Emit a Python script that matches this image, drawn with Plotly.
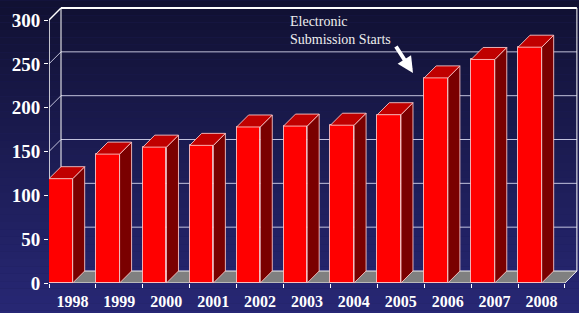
import plotly.graph_objects as go

# ---- data ----
years = ["1998", "1999", "2000", "2001", "2002", "2003", "2004", "2005", "2006", "2007", "2008"]
submissions = [119, 147, 155, 157, 178, 179, 180, 192, 234, 255, 269]
y_ticks = [0, 50, 100, 150, 200, 250, 300]
note_text = "Electronic<br>Submission Starts"

# ---- geometry (in axis units) ----
PX_X = 46.9          # pixels per category
PX_Y = 0.8766        # pixels per value unit
DX = 12 / PX_X       # depth offset in category units
DY = 12 / PX_Y       # depth offset in value units
W = 0.505            # front face width (category units)
N = len(years)
X_MAX = 529 / PX_X
Y_MAX = 277 / PX_Y

FONT = "Liberation Serif"
EDGE = "rgba(255,205,205,0.85)"

fig = go.Figure()

# ---- background gradient (paper) ----
top = (15, 15, 45)
bot = (47, 47, 140)
NB = 60
for k in range(NB):
    t = (k + 0.5) / NB
    c = tuple(round(top[j] + (bot[j] - top[j]) * t) for j in range(3))
    fig.add_shape(type="rect", xref="paper", yref="paper",
                  x0=-0.2, x1=1.2, y0=1.1 - (k + 1) * 1.6 / NB, y1=1.1 - k * 1.6 / NB,
                  fillcolor="rgb(%d,%d,%d)" % c, line=dict(width=0), layer="below")

shapes_line = dict(color="rgba(235,235,255,0.8)", width=1)
# back wall gridlines
for v in y_ticks[1:-1]:
    fig.add_shape(type="line", x0=DX, x1=N + DX, y0=v + DY, y1=v + DY,
                  line=shapes_line, layer="below")
    fig.add_shape(type="line", x0=0, x1=DX, y0=v, y1=v + DY,
                  line=shapes_line, layer="below")
top_v = y_ticks[-1]
fig.add_shape(type="line", x0=DX, x1=N + DX, y0=top_v + DY, y1=top_v + DY,
              line=dict(color="white", width=2), layer="below")
fig.add_shape(type="line", x0=0, x1=DX, y0=top_v, y1=top_v + DY,
              line=dict(color="white", width=1.5), layer="below")
# wall edges
fig.add_shape(type="line", x0=DX, x1=DX, y0=DY, y1=top_v + DY, line=dict(color="white", width=1), layer="below")
fig.add_shape(type="line", x0=N + DX, x1=N + DX, y0=DY, y1=top_v + DY, line=dict(color="white", width=1), layer="below")
fig.add_shape(type="line", x0=0, x1=0, y0=0, y1=top_v, line=dict(color="white", width=1.5), layer="below")
# floor
fig.add_shape(type="path",
              path="M 0 0 L %f 0 L %f %f L %f %f Z" % (N, N + DX, DY, DX, DY),
              fillcolor="#808080", line=dict(color="rgba(255,255,255,0.9)", width=1), layer="below")

# ---- front faces ----
xs = list(range(N))
fig.add_trace(go.Bar(x=[i + W / 2 for i in xs], y=submissions, width=W,
                     marker=dict(color="#ff0000", line=dict(color=EDGE, width=1)),
                     hoverinfo="skip", showlegend=False))

# ---- side and top faces ----
for i, v in zip(xs, submissions):
    xr = i + W
    fig.add_trace(go.Scatter(
        x=[xr, xr + DX, xr + DX, xr, xr], y=[0, DY, v + DY, v, 0],
        fill="toself", fillcolor="#7a0000", mode="lines",
        line=dict(color=EDGE, width=1), hoverinfo="skip", showlegend=False))
    fig.add_trace(go.Scatter(
        x=[i, i + DX, xr + DX, xr, i], y=[v, v + DY, v + DY, v, v],
        fill="toself", fillcolor="#c00000", mode="lines",
        line=dict(color=EDGE, width=1), hoverinfo="skip", showlegend=False))

# ---- annotations ----
fig.add_annotation(x=(288 - 49) / PX_X, y=(283 - 30) / PX_Y, xref="x", yref="y",
                   text=note_text, showarrow=False, xanchor="left", yanchor="middle",
                   align="left", font=dict(family=FONT, size=14, color="#eeeeee"))
fig.add_annotation(x=(413 - 49) / PX_X, y=(283 - 73) / PX_Y, xref="x", yref="y",
                   text="", showarrow=True, ax=-18, ay=-28, arrowhead=2,
                   arrowsize=0.8, arrowwidth=4, arrowcolor="white", standoff=0)

fig.update_layout(
    width=579, height=313, autosize=False,
    margin=dict(l=49, r=1, t=6, b=30, autoexpand=False),
    paper_bgcolor="rgb(31,31,92)", plot_bgcolor="rgba(0,0,0,0)",
    bargap=0, showlegend=False,
    xaxis=dict(range=[0, X_MAX], tickvals=[i + 0.5 for i in xs], ticktext=years,
               ticks="outside", ticklen=4, tickcolor="rgba(0,0,0,0)",
               showgrid=False, zeroline=False, showline=False, automargin=False,
               tickfont=dict(family=FONT, size=16, color="white", weight="bold")),
    xaxis2=dict(range=[0, X_MAX], overlaying="x", anchor="y", side="bottom",
                tickvals=list(range(N + 1)), ticks="outside", ticklen=4,
                tickcolor="white", showticklabels=False, showgrid=False,
                zeroline=False, showline=False),
    yaxis=dict(range=[0, Y_MAX], tickvals=y_ticks, ticktext=[str(v) for v in y_ticks],
               ticks="outside", ticklen=4, tickcolor="white", showgrid=False,
               zeroline=False, showline=False, automargin=False,
               tickfont=dict(family=FONT, size=19, color="white", weight="bold")),
)
# dummy trace to show xaxis2
fig.add_trace(go.Scatter(x=[0], y=[0], xaxis="x2", yaxis="y", mode="markers",
                         marker=dict(opacity=0), hoverinfo="skip", showlegend=False))

fig.write_html("out.html", config={"displayModeBar": False},
               post_script="document.body.style.margin='0';document.body.style.overflow='hidden';")
